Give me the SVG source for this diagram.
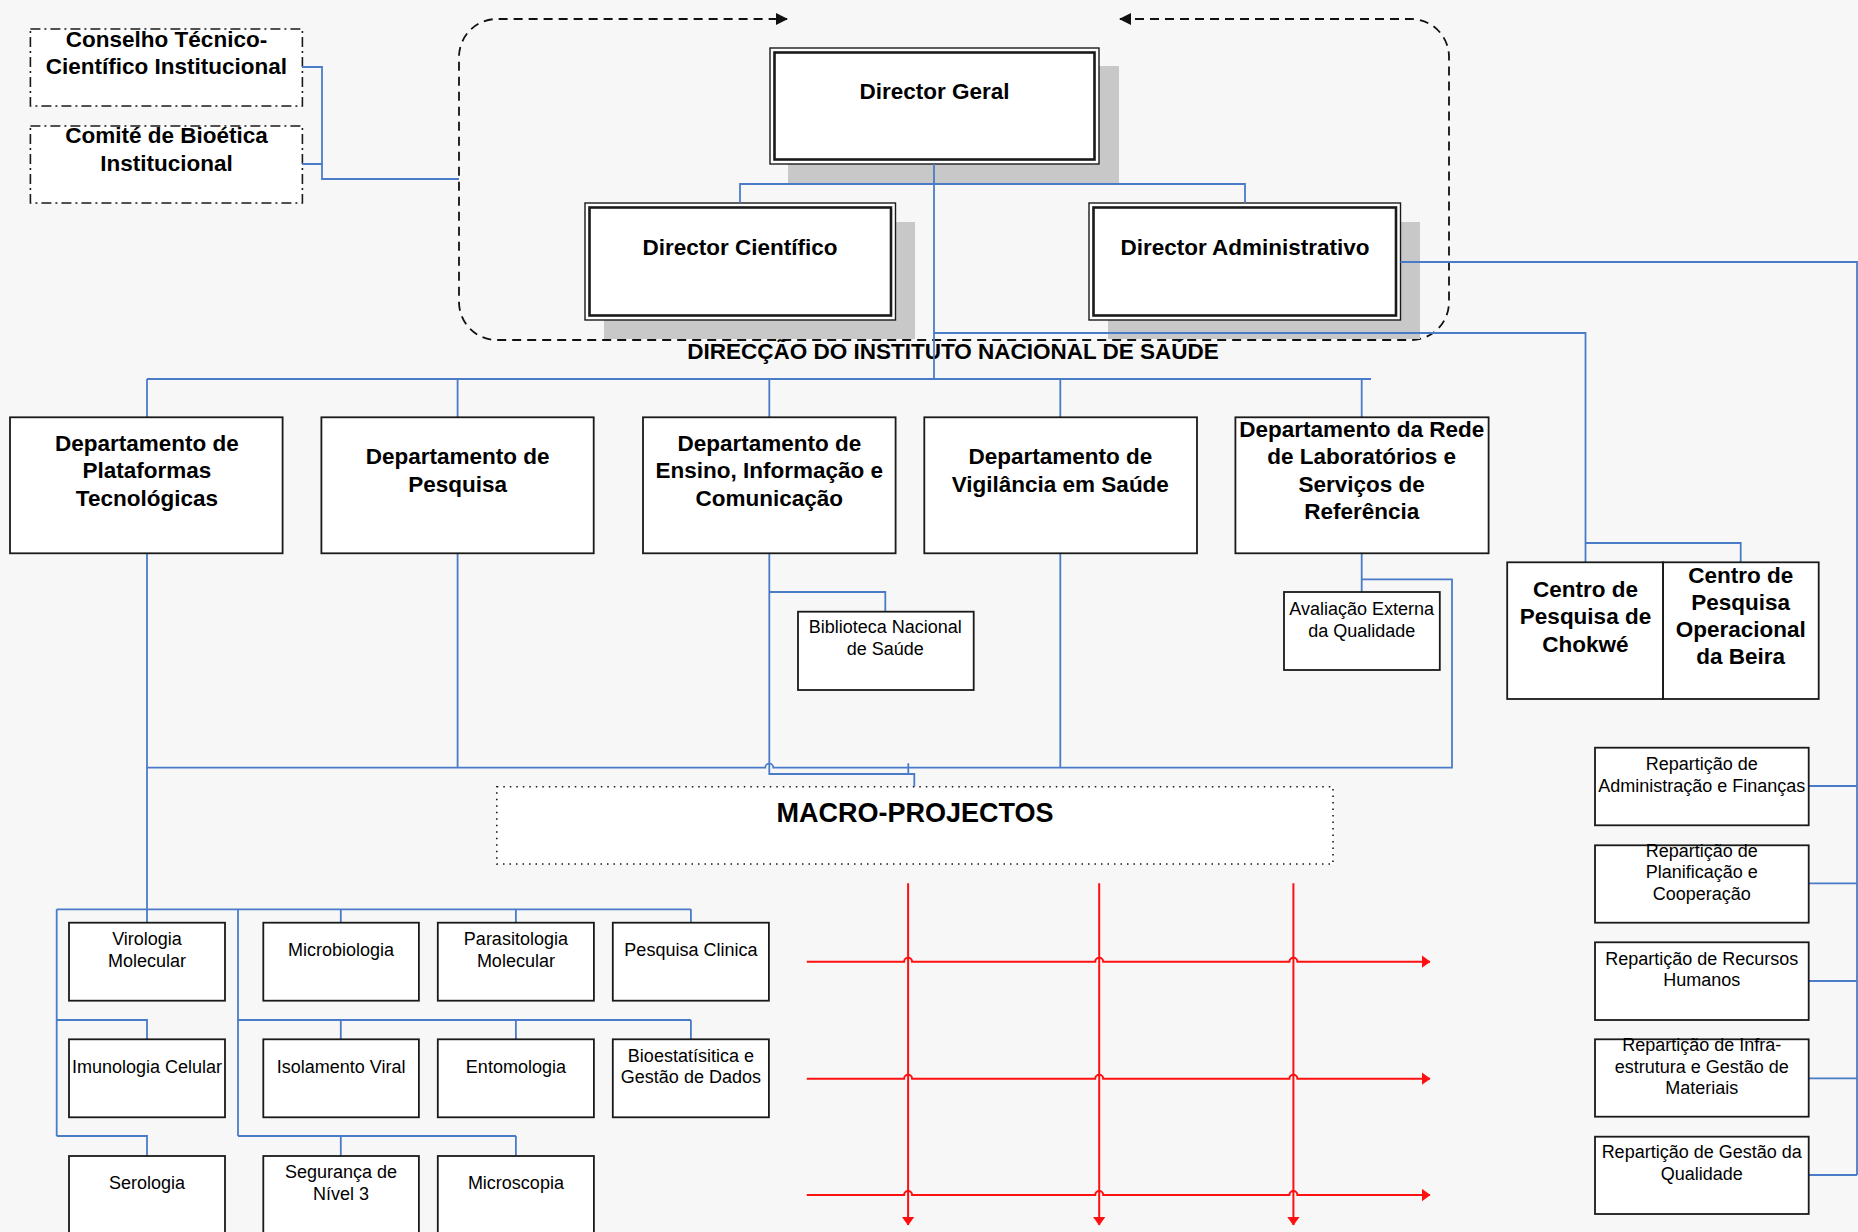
<svg xmlns="http://www.w3.org/2000/svg" width="1858" height="1232" viewBox="0 0 1858 1232">
<style>
.bg{fill:#f7f7f7}
.box{fill:#fff;stroke:#1a1a1a;stroke-width:1.8}
.dd{fill:#fff;stroke:#1a1a1a;stroke-width:1.6;stroke-dasharray:10 4 2 4}
.dot{fill:#fff;stroke:#1a1a1a;stroke-width:1.6;stroke-dasharray:1.5 5}
.outer{fill:#fff;stroke:#1a1a1a;stroke-width:1.4}
.inner{fill:none;stroke:#1a1a1a;stroke-width:2.6}
.shadow{fill:#c8c8c8}
.c{fill:none;stroke:#4a7bc8;stroke-width:1.8}
.r{fill:none;stroke:#ff1010;stroke-width:2}
.dash{fill:none;stroke:#111;stroke-width:1.8;stroke-dasharray:9 6}
text{font-family:"Liberation Sans",Arial,sans-serif;fill:#000;text-anchor:middle}
.b{font-weight:bold;font-size:22.5px}
.n{font-size:18px}
.m{font-weight:bold;font-size:27px}
</style>
<defs>
<marker id="ak" viewBox="0 0 12 12" refX="11" refY="6" markerWidth="12" markerHeight="12" markerUnits="userSpaceOnUse" orient="auto-start-reverse"><path d="M0,0 L12,6 L0,12 Z" fill="#111"/></marker>
<marker id="ar" viewBox="0 0 9 13" refX="8.5" refY="6.5" markerWidth="9" markerHeight="13" markerUnits="userSpaceOnUse" orient="auto"><path d="M0,0 L9,6.5 L0,13 Z" fill="#ff1010"/></marker>
</defs>
<rect class="bg" x="0" y="0" width="1858" height="1232"/>

<g id="direccao-frame">
<path class="dash" d="M1120,19 H1411 A38,38 0 0 1 1449,57 V302 A38,38 0 0 1 1411,340 H497 A38,38 0 0 1 459,302 V57 A38,38 0 0 1 497,19 H787" marker-start="url(#ak)" marker-end="url(#ak)"/>
<text class="b" x="953" y="359">DIRECÇÃO DO INSTITUTO NACIONAL DE SAÚDE</text>
</g>

<g id="conselho">
<rect class="dd" x="30.4" y="29" width="272" height="77"/>
<text class="b" x="166.5" y="46.7">Conselho Técnico-</text>
<text class="b" x="166.5" y="74">Científico Institucional</text>
</g>
<g id="comite">
<rect class="dd" x="30.4" y="126" width="272" height="77"/>
<text class="b" x="166.5" y="143.3">Comité de Bioética</text>
<text class="b" x="166.5" y="170.7">Institucional</text>
</g>

<g id="director-geral">
<rect class="shadow" x="788" y="66" width="331" height="117"/>
<rect class="outer" x="770" y="48" width="329" height="116"/>
<rect class="inner" x="774.5" y="52.5" width="320" height="107"/>
<text class="b" x="934.5" y="99">Director Geral</text>
</g>
<g id="director-cientifico">
<rect class="shadow" x="604" y="222" width="311" height="117"/>
<rect class="outer" x="585" y="203" width="310.5" height="117"/>
<rect class="inner" x="589.5" y="207.5" width="301.5" height="108"/>
<text class="b" x="740" y="255">Director Científico</text>
</g>
<g id="director-administrativo">
<rect class="shadow" x="1108" y="222" width="312" height="117"/>
<rect class="outer" x="1089" y="203" width="311.5" height="117"/>
<rect class="inner" x="1093.5" y="207.5" width="302.5" height="108"/>
<text class="b" x="1245" y="255">Director Administrativo</text>
</g>

<g id="connectors">
<path class="c" d="M302,67 H322 V179 H459 M302,164 H322"/>
<path class="c" d="M934,164 V379 M740,203 V184 H1245 V203"/>
<path class="c" d="M1400.5,262 H1857 V1175"/>
<path class="c" d="M934,333 H1585.5 V562 M1585.5,543 H1740.7 V562"/>
<path class="c" d="M147,379 H1371 M147,379 V417 M457.6,379 V417 M769.3,379 V417 M1060.3,379 V417 M1361.7,379 V417"/>
<path class="c" d="M147,553 V909.3 M457.6,553 V767.7 M1060.3,553 V767.7"/>
<path class="c" d="M147,767.7 H765.3 A4,4 0 0 1 773.3,767.7 H1452 V579.3 H1361.7 M1361.7,553 V592"/>
<path class="c" d="M769.3,553 V774 H914.3 V786.7 M908.3,763.3 V774"/>
<path class="c" d="M769.3,592 H885.3 V611.7"/>
<path class="c" d="M56.7,909.3 H690.9 M147,909.3 V922.7 M340.8,909.3 V922.7 M515.9,909.3 V922.7 M690.9,909.3 V922.7"/>
<path class="c" d="M56.7,909.3 V1136 M56.7,1020 H147 V1039.3 M56.7,1136 H147 V1156"/>
<path class="c" d="M238,909.3 V1136 M238,1020 H690.9 M340.8,1020 V1039.3 M515.9,1020 V1039.3 M690.9,1020 V1039.3 M238,1136 H515.9 M340.8,1136 V1156 M515.9,1136 V1156"/>
<path class="c" d="M1808.7,786 H1857 M1808.7,883.3 H1857 M1808.7,981 H1857 M1808.7,1078.3 H1857 M1808.7,1175 H1857"/>
</g>

<g id="dep-plataformas">
<rect class="box" x="10" y="417.3" width="272.6" height="136"/>
<text class="b" x="146.9" y="450.7">Departamento de</text>
<text class="b" x="146.9" y="478.3">Plataformas</text>
<text class="b" x="146.9" y="506">Tecnológicas</text>
</g>
<g id="dep-pesquisa">
<rect class="box" x="321.4" y="417.3" width="272.3" height="136"/>
<text class="b" x="457.6" y="464.3">Departamento de</text>
<text class="b" x="457.6" y="491.7">Pesquisa</text>
</g>
<g id="dep-ensino">
<rect class="box" x="643" y="417.3" width="252.6" height="136"/>
<text class="b" x="769.3" y="450.7">Departamento de</text>
<text class="b" x="769.3" y="477.7">Ensino, Informação e</text>
<text class="b" x="769.3" y="505.7">Comunicação</text>
</g>
<g id="dep-vigilancia">
<rect class="box" x="924.3" y="417.3" width="272.7" height="136"/>
<text class="b" x="1060.3" y="464.3">Departamento de</text>
<text class="b" x="1060.3" y="491.7">Vigilância em Saúde</text>
</g>
<g id="dep-rede">
<rect class="box" x="1235.4" y="417.3" width="253.2" height="136"/>
<text class="b" x="1361.7" y="436.7">Departamento da Rede</text>
<text class="b" x="1361.7" y="464.3">de Laboratórios e</text>
<text class="b" x="1361.7" y="491.7">Serviços de</text>
<text class="b" x="1361.7" y="519.3">Referência</text>
</g>

<g id="biblioteca">
<rect class="box" x="798" y="611.7" width="175.7" height="78.3"/>
<text class="n" x="885.3" y="633.3">Biblioteca Nacional</text>
<text class="n" x="885.3" y="655">de Saúde</text>
</g>
<g id="avaliacao">
<rect class="box" x="1284" y="592" width="155.8" height="78"/>
<text class="n" x="1361.7" y="615">Avaliação Externa</text>
<text class="n" x="1361.7" y="636.7">da Qualidade</text>
</g>

<g id="centro-chokwe">
<rect class="box" x="1507.2" y="562.3" width="155.9" height="136.7"/>
<text class="b" x="1585.5" y="596.7">Centro de</text>
<text class="b" x="1585.5" y="624">Pesquisa de</text>
<text class="b" x="1585.5" y="651.7">Chokwé</text>
</g>
<g id="centro-beira">
<rect class="box" x="1663.1" y="562.3" width="155.6" height="136.7"/>
<text class="b" x="1740.7" y="582.7">Centro de</text>
<text class="b" x="1740.7" y="610">Pesquisa</text>
<text class="b" x="1740.7" y="637.3">Operacional</text>
<text class="b" x="1740.7" y="664">da Beira</text>
</g>

<g id="macro-projectos">
<rect class="dot" x="496.8" y="786.7" width="836.2" height="77.3"/>
<text class="m" x="915" y="822">MACRO-PROJECTOS</text>
</g>

<g id="lab-virologia"><rect class="box" x="69" y="922.7" width="156" height="78"/><text class="n" x="147" y="945">Virologia</text><text class="n" x="147" y="966.7">Molecular</text></g>
<g id="lab-microbiologia"><rect class="box" x="263.3" y="922.7" width="155.6" height="78"/><text class="n" x="341.1" y="956">Microbiologia</text></g>
<g id="lab-parasitologia"><rect class="box" x="437.8" y="922.7" width="156.1" height="78"/><text class="n" x="515.9" y="945">Parasitologia</text><text class="n" x="515.9" y="966.7">Molecular</text></g>
<g id="lab-pesquisa-clinica"><rect class="box" x="612.8" y="922.7" width="156.1" height="78"/><text class="n" x="690.9" y="956">Pesquisa Clinica</text></g>
<g id="lab-imunologia"><rect class="box" x="69" y="1039.3" width="156" height="78"/><text class="n" x="147" y="1072.7">Imunologia Celular</text></g>
<g id="lab-isolamento"><rect class="box" x="263.3" y="1039.3" width="155.6" height="78"/><text class="n" x="341.1" y="1072.7">Isolamento Viral</text></g>
<g id="lab-entomologia"><rect class="box" x="437.8" y="1039.3" width="156.1" height="78"/><text class="n" x="515.9" y="1072.7">Entomologia</text></g>
<g id="lab-bioestatistica"><rect class="box" x="612.8" y="1039.3" width="156.1" height="78"/><text class="n" x="690.9" y="1061.7">Bioestatísitica e</text><text class="n" x="690.9" y="1083.3">Gestão de Dados</text></g>
<g id="lab-serologia"><rect class="box" x="69" y="1156" width="156" height="90"/><text class="n" x="147" y="1189.3">Serologia</text></g>
<g id="lab-seguranca"><rect class="box" x="263.3" y="1156" width="155.6" height="90"/><text class="n" x="341.1" y="1178.3">Segurança de</text><text class="n" x="341.1" y="1200">Nível 3</text></g>
<g id="lab-microscopia"><rect class="box" x="437.8" y="1156" width="156.1" height="90"/><text class="n" x="515.9" y="1189.3">Microscopia</text></g>

<g id="rep-administracao"><rect class="box" x="1595" y="747.7" width="213.7" height="77.6"/><text class="n" x="1701.7" y="770">Repartição de</text><text class="n" x="1701.7" y="791.7">Administração e Finanças</text></g>
<g id="rep-planificacao"><rect class="box" x="1595" y="845.3" width="213.7" height="77.4"/><text class="n" x="1701.7" y="856.7">Repartição de</text><text class="n" x="1701.7" y="878.3">Planificação e</text><text class="n" x="1701.7" y="900">Cooperação</text></g>
<g id="rep-recursos-humanos"><rect class="box" x="1595" y="942.3" width="213.7" height="77.7"/><text class="n" x="1701.7" y="965">Repartição de Recursos</text><text class="n" x="1701.7" y="985.7">Humanos</text></g>
<g id="rep-infraestrutura"><rect class="box" x="1595" y="1039.3" width="213.7" height="77.4"/><text class="n" x="1701.7" y="1051">Repartição de Infra-</text><text class="n" x="1701.7" y="1072.7">estrutura e Gestão de</text><text class="n" x="1701.7" y="1094.3">Materiais</text></g>
<g id="rep-qualidade"><rect class="box" x="1595" y="1136.7" width="213.7" height="77.3"/><text class="n" x="1701.7" y="1158.3">Repartição de Gestão da</text><text class="n" x="1701.7" y="1180">Qualidade</text></g>

<g id="macro-grid">
<path class="r" d="M908.1,883.3 V1225" marker-end="url(#ar)"/>
<path class="r" d="M1099.2,883.3 V1225" marker-end="url(#ar)"/>
<path class="r" d="M1293.4,883.3 V1225" marker-end="url(#ar)"/>
<path class="r" d="M806.8,961.7 H904.1 A4,4 0 0 1 912.1,961.7 H1095.2 A4,4 0 0 1 1103.2,961.7 H1289.4 A4,4 0 0 1 1297.4,961.7 H1430" marker-end="url(#ar)"/>
<path class="r" d="M806.8,1078.7 H904.1 A4,4 0 0 1 912.1,1078.7 H1095.2 A4,4 0 0 1 1103.2,1078.7 H1289.4 A4,4 0 0 1 1297.4,1078.7 H1430" marker-end="url(#ar)"/>
<path class="r" d="M806.8,1195 H904.1 A4,4 0 0 1 912.1,1195 H1095.2 A4,4 0 0 1 1103.2,1195 H1289.4 A4,4 0 0 1 1297.4,1195 H1430" marker-end="url(#ar)"/>
</g>
</svg>
